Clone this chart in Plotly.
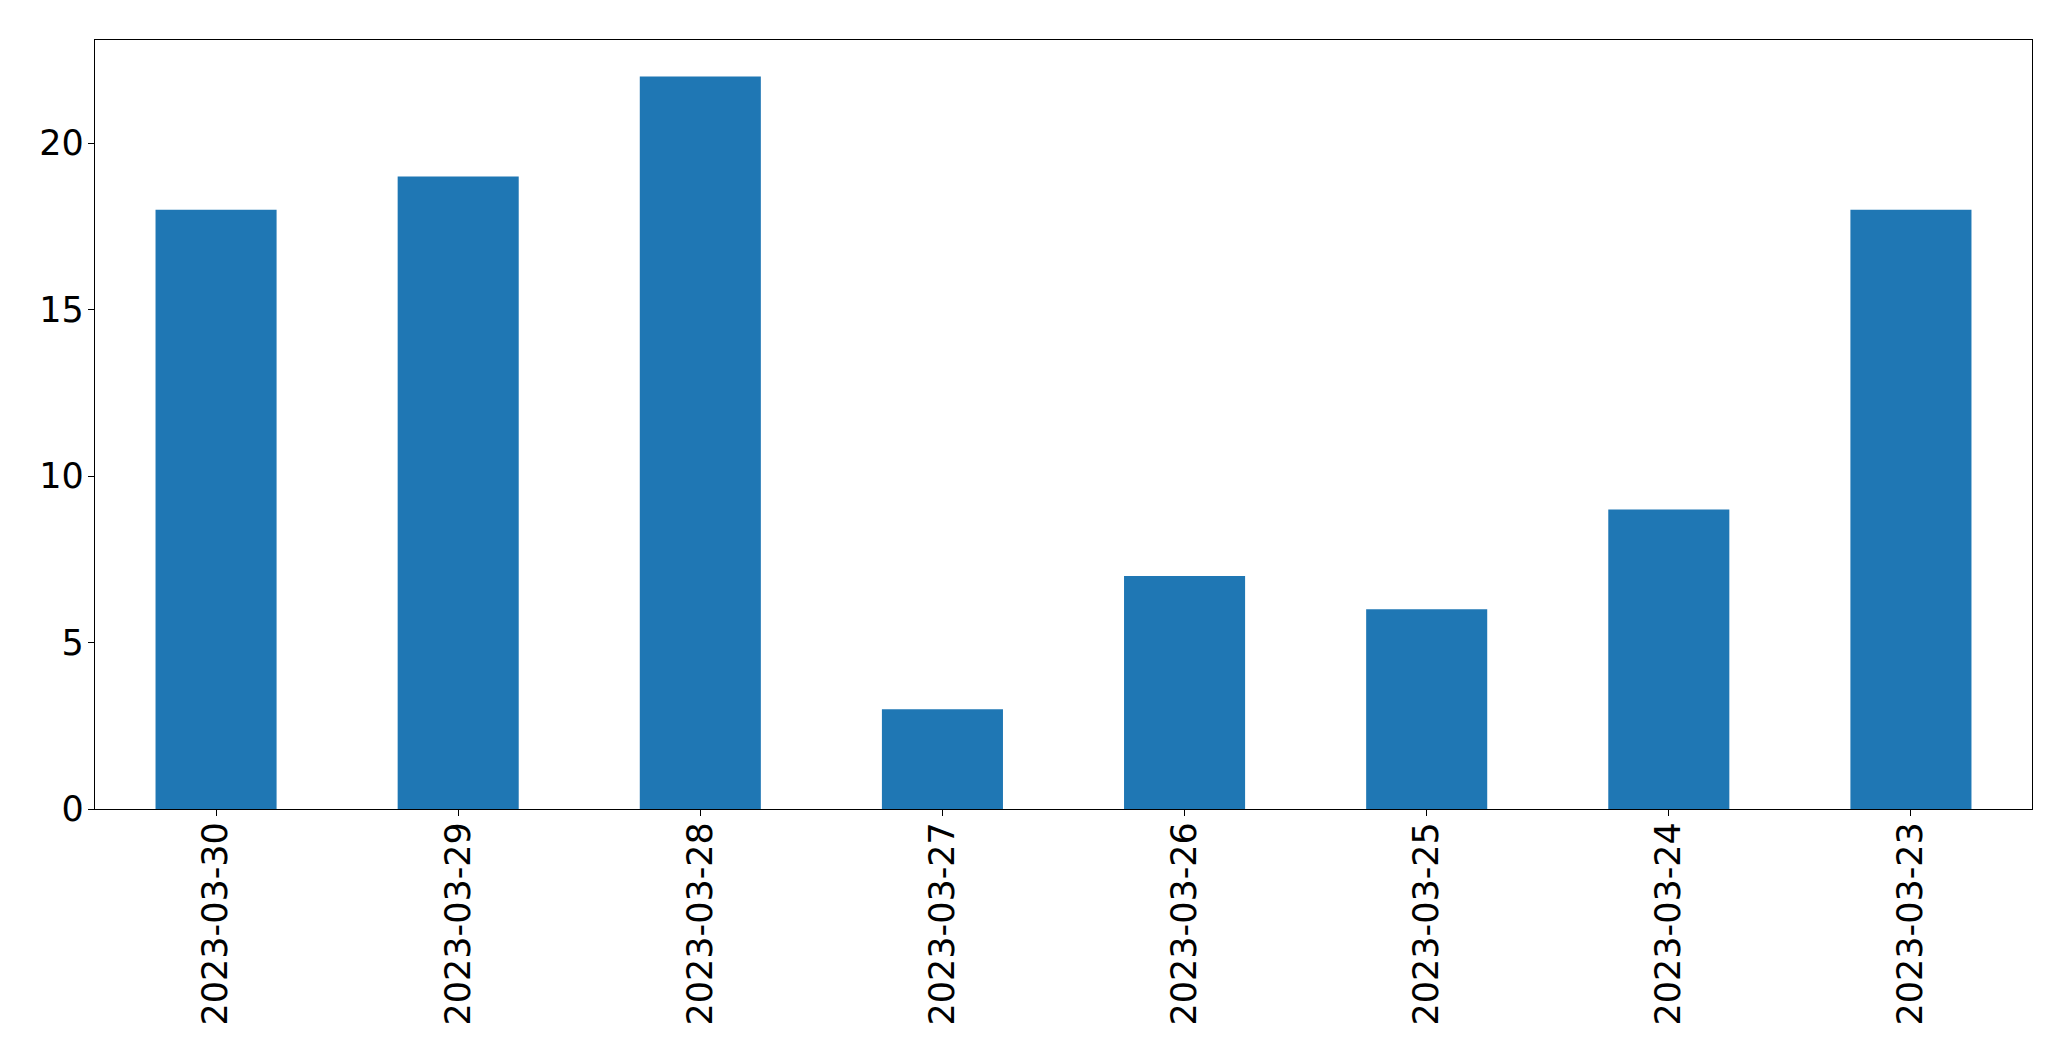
import plotly.graph_objects as go

dates = ["2023-03-30", "2023-03-29", "2023-03-28", "2023-03-27",
         "2023-03-26", "2023-03-25", "2023-03-24", "2023-03-23"]
counts = [18, 19, 22, 3, 7, 6, 9, 18]
y_ticks = [0, 5, 10, 15, 20]

fig = go.Figure(go.Bar(x=dates, y=counts, width=0.5, marker_color="#1f77b4",
                       marker_line_width=0))

axis_common = dict(showline=True, linecolor="black", linewidth=1.3, mirror=True,
                   ticks="outside", ticklen=6, tickwidth=1.3, tickcolor="black",
                   showgrid=False, zeroline=False,
                   tickfont=dict(family="DejaVu Sans", size=35, color="black"))

fig.update_xaxes(type="category", range=[-0.5, len(dates) - 0.5], tickangle=-90,
                 ticklabelstandoff=-8, **axis_common)
fig.update_yaxes(range=[0, max(counts) * 1.05], tickvals=y_ticks,
                 ticklabelstandoff=-3, **axis_common)

fig.update_layout(width=2071, height=1061, plot_bgcolor="white", paper_bgcolor="white",
                  margin=dict(l=94.5, r=39.3, t=39.5, b=251.7, autoexpand=False),
                  showlegend=False)

fig.write_html("out.html", config={"displayModeBar": False},
               post_script="document.body.style.margin='0';")
